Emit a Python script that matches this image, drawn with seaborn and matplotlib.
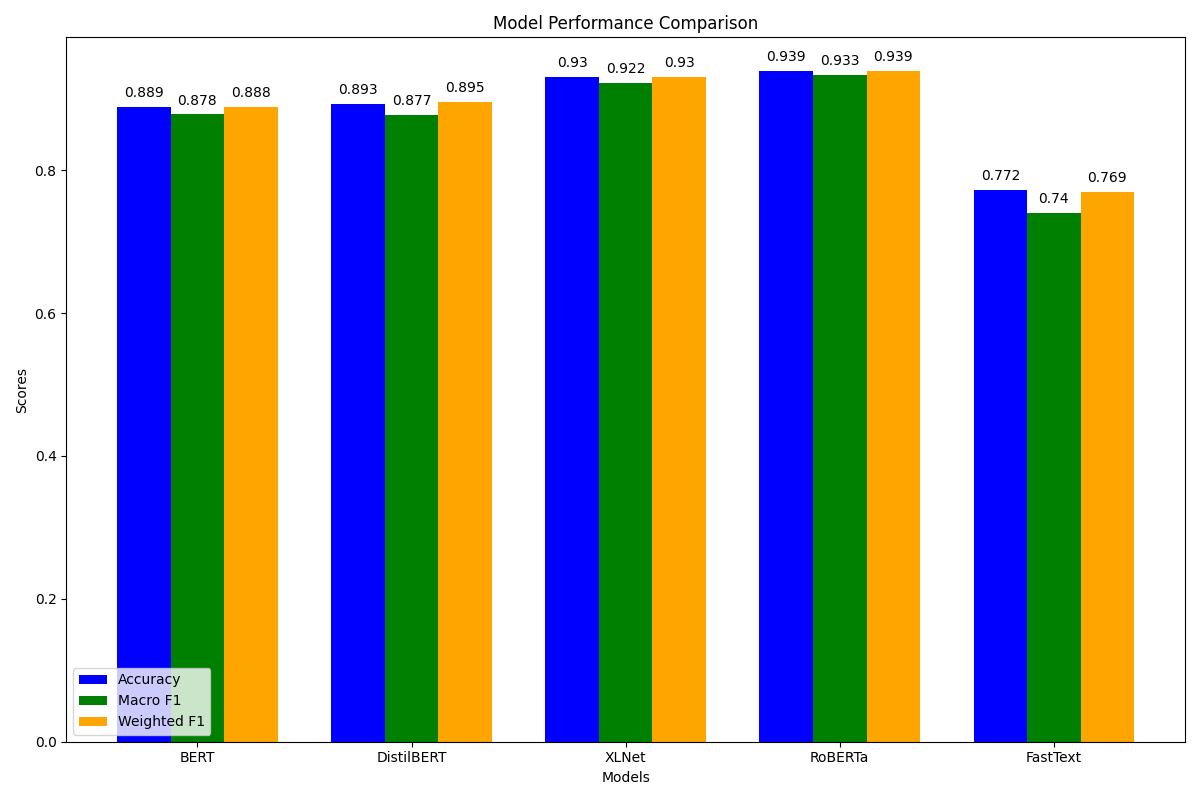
import numpy as np
import pandas as pd
import matplotlib
matplotlib.use("Agg")
import matplotlib.pyplot as plt
import seaborn as sns

# --- data ---
models = ["BERT", "DistilBERT", "XLNet", "RoBERTa", "FastText"]
accuracy = [0.889, 0.893, 0.93, 0.939, 0.772]
macro_f1 = [0.878, 0.877, 0.922, 0.933, 0.74]
weighted_f1 = [0.888, 0.895, 0.93, 0.939, 0.769]
metrics = ["Accuracy", "Macro F1", "Weighted F1"]
colors = ["blue", "green", "orange"]

df = pd.DataFrame({
    "Model": models * 3,
    "Metric": np.repeat(metrics, len(models)),
    "Score": accuracy + macro_f1 + weighted_f1,
})

fig, ax = plt.subplots(figsize=(12, 8), dpi=100)
sns.barplot(data=df, x="Model", y="Score", hue="Metric", palette=colors,
            saturation=1, width=0.75, linewidth=0, errorbar=None, ax=ax)

for cont in ax.containers:
    ax.bar_label(cont, fmt="%g", padding=5, fontsize=10)

# matplotlib-like default margins on x
n = len(models)
pad = 0.05 * (n - 1 + 0.75)
ax.set_xlim(-0.375 - pad, n - 1 + 0.375 + pad)
ax.set_ylim(0, 0.986)

ax.set_title("Model Performance Comparison")
ax.set_xlabel("Models")
ax.set_ylabel("Scores")
ax.legend(loc="lower left")

plt.tight_layout()
plt.savefig("out.png", dpi=100)
plt.close()
